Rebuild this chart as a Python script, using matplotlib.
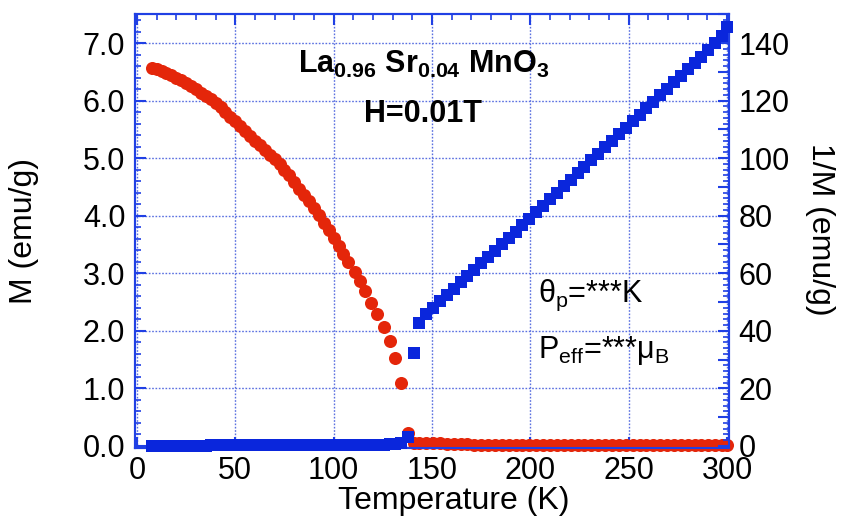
import matplotlib
matplotlib.use("Agg")
import matplotlib.pyplot as plt
from matplotlib.ticker import MultipleLocator, FuncFormatter

plt.rcParams['font.family'] = ['Liberation Sans', 'DejaVu Sans']
plt.rcParams['mathtext.fontset'] = 'custom'
plt.rcParams['mathtext.rm'] = 'Liberation Sans'
plt.rcParams['mathtext.it'] = 'Liberation Sans:italic'
plt.rcParams['mathtext.bf'] = 'Liberation Sans:bold'

# ---- data ----
T_low = [7.5, 10, 12.5, 15, 17.5, 20, 22.5, 25, 27.5, 30, 32.5, 35, 37.5, 40, 42.5,
         45, 47.5, 50, 52.5, 55, 57.5, 60, 62.5, 65, 67.5, 70, 72.5, 75, 77.5, 80,
         82.5, 85, 87.5, 90, 92.5, 95, 97.5, 100, 102.5, 105, 107.5, 110.7, 113.4,
         116.0, 119.2, 121.9, 125.7, 128.6, 131.3, 134.2, 137.6]
M_low = [6.56, 6.54, 6.51, 6.48, 6.44, 6.40, 6.35, 6.31, 6.25, 6.20, 6.14, 6.08, 6.02,
         5.95, 5.88, 5.80, 5.72, 5.64, 5.56, 5.48, 5.39, 5.30, 5.22, 5.14, 5.06, 4.98,
         4.89, 4.80, 4.70, 4.59, 4.47, 4.36, 4.25, 4.13, 4.01, 3.88, 3.75, 3.62, 3.48,
         3.34, 3.20, 3.03, 2.86, 2.70, 2.48, 2.29, 2.06, 1.82, 1.52, 1.09, 0.22]
invM_low = [0.15, 0.15, 0.15, 0.15, 0.16, 0.16, 0.16, 0.16, 0.16, 0.16, 0.16, 0.16, 0.17,
            0.17, 0.17, 0.17, 0.17, 0.18, 0.18, 0.18, 0.19, 0.19, 0.19, 0.19, 0.20, 0.20,
            0.20, 0.21, 0.21, 0.22, 0.22, 0.23, 0.24, 0.24, 0.25, 0.26, 0.27, 0.28, 0.29,
            0.30, 0.31, 0.33, 0.35, 0.37, 0.40, 0.44, 0.49, 0.55, 0.66, 0.92, 3.2]

T_high = [140.7, 143.5, 147, 150.5, 154, 157.5, 161, 164.5, 168, 171.5, 175, 178.5, 182,
          185.5, 189, 192.5, 196, 199.5, 203, 206.5, 210, 213.5, 217, 220.5, 224, 227.5,
          231, 234.5, 238, 241.5, 245, 248.5, 252, 255.5, 259, 262.5, 266, 269.5, 273,
          276.5, 280, 283.5, 287, 290.5, 294, 297.5, 300]
M_high = [0.06, 0.06, 0.05, 0.05, 0.05, 0.04, 0.04, 0.03, 0.03, 0.02, 0.02, 0.02, 0.02,
          0.02, 0.02, 0.02, 0.02, 0.02, 0.02, 0.02, 0.02, 0.02, 0.02, 0.02, 0.02, 0.02,
          0.02, 0.02, 0.02, 0.02, 0.02, 0.02, 0.02, 0.02, 0.02, 0.02, 0.02, 0.02, 0.02,
          0.02, 0.02, 0.02, 0.02, 0.02, 0.02, 0.02, 0.02]
invM_high = [32.4, 42.6, 45.8, 48.0, 50.2, 52.4, 54.6, 56.8, 59.0, 61.2, 63.4, 65.6, 67.8,
             70.0, 72.2, 74.5, 76.8, 79.0, 81.3, 83.5, 85.8, 88.0, 90.3, 92.5, 94.8, 97.0,
             99.3, 101.5, 103.8, 106.0, 108.3, 110.5, 112.8, 115.0, 117.3, 119.5, 121.8,
             124.0, 126.3, 128.5, 130.8, 133.0, 135.3, 137.6, 140.0, 142.5, 145.5]

T = T_low + T_high
M = M_low + M_high
invM = invM_low + invM_high

left_ticks = [0.0, 1.0, 2.0, 3.0, 4.0, 5.0, 6.0, 7.0]
right_ticks = [0, 20, 40, 60, 80, 100, 120, 140]
x_ticks = [0, 50, 100, 150, 200, 250, 300]

RED = '#e4260a'
BLUE = '#0a26dc'
AXBLUE = '#2040e4'

fig = plt.figure(figsize=(8.43, 5.23), dpi=100)
W, H = 843, 523
ax = fig.add_axes([135 / W, 1 - 448 / H, (729 - 135) / W, (448 - 14) / H])
ax2 = ax.twinx()

ax.plot(T, M, 'o', color=RED, markersize=9.4, markeredgewidth=0, zorder=3, clip_on=False)
ax2.plot(T, invM, 's', color=BLUE, markersize=9.0, markeredgewidth=0, zorder=3, clip_on=False)

ax.set_xlim(-1, 301)
ax.set_ylim(-0.035, 7.504)
ax2.set_ylim(-0.7, 150.08)

ax.set_xticks(x_ticks)
ax.set_yticks(left_ticks)
ax.set_yticklabels([f"{v:.1f}" for v in left_ticks])
ax.xaxis.set_minor_locator(MultipleLocator(10))
ax.yaxis.set_minor_locator(MultipleLocator(0.2))
ax2.yaxis.set_major_locator(MultipleLocator(10))
ax2.yaxis.set_major_formatter(FuncFormatter(lambda v, p: f"{int(round(v))}" if int(round(v)) in right_ticks else ""))
ax2.yaxis.set_minor_locator(MultipleLocator(2))

ax.grid(True, which='major', color='#5a70e0', linestyle=(0, (1.2, 1.2)), linewidth=1.0)

for a in (ax, ax2):
    for s in a.spines.values():
        s.set_color(AXBLUE)
        s.set_linewidth(1.5)

ax.tick_params(axis='both', which='major', direction='in', length=8, width=1.5,
               color=AXBLUE, labelsize=22, top=True, right=False, pad=7)
ax.tick_params(axis='both', which='minor', direction='in', length=4.5, width=1.2,
               color=AXBLUE, top=True, right=False)
ax.tick_params(axis='x', which='major', pad=6)
ax2.tick_params(axis='y', which='major', direction='in', length=8, width=1.5,
                color=AXBLUE, labelsize=22, pad=7)
ax2.tick_params(axis='y', which='minor', direction='in', length=4.5, width=1.2,
                color=AXBLUE)

ax.set_xlabel('Temperature (K)', fontsize=23, va='center')
ax.set_ylabel('M (emu/g)', fontsize=23, va='center')
ax2.set_ylabel('1/M (emu/g)', fontsize=23, rotation=270, va='center')
ax.xaxis.set_label_coords(0.537, -0.122)
ax.yaxis.set_label_coords(-0.187, 0.5)
ax2.yaxis.set_label_coords(1.153, 0.505)

ax.text(82, 6.48, r'$\mathbf{La}_{\mathbf{0.96}}\ \mathbf{Sr}_{\mathbf{0.04}}\ \mathbf{MnO}_{\mathbf{3}}$',
        fontsize=22, va='baseline', ha='left', zorder=5)
ax.text(115.3, 5.63, 'H=0.01T', fontsize=22, fontweight='bold', va='baseline', ha='left', zorder=5)
ax.text(204, 2.5, r'θ$_\mathrm{p}$=***K', fontsize=22, va='baseline', ha='left', zorder=5)
ax.text(204, 1.53, r'P$_\mathrm{eff}$=***μ$_\mathrm{B}$', fontsize=22, va='baseline', ha='left', zorder=5)

ax.set_zorder(ax2.get_zorder() - 1)
ax.patch.set_visible(True)
ax2.patch.set_visible(False)

fig.savefig('out.png', dpi=100)
